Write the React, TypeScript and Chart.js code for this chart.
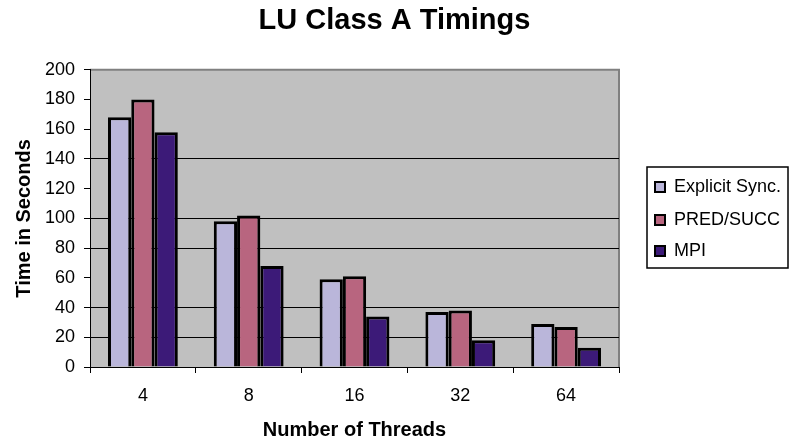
import React, { useEffect, useRef } from "react";
import { Chart, registerables } from "chart.js";

Chart.register(...registerables);

const categories = ["4", "8", "16", "32", "64"];
const explicitSync = [168, 98, 59, 37, 29];
const predSucc = [180, 102, 61, 38, 27];
const mpi = [158, 68, 34, 18, 13];
const seriesNames = ["Explicit Sync.", "PRED/SUCC", "MPI"];
const seriesColors = ["#BAB6DA", "#B8657F", "#3C1A78"];
const visibleGridValues = [20, 40, 80, 100, 140];

const FONT = "'Liberation Sans', Arial, sans-serif";

const plotBackground = {
  id: "plotBackground",
  beforeDraw(chart: any) {
    const { ctx, chartArea } = chart;
    const { left, top, right, bottom } = chartArea;
    ctx.save();
    ctx.fillStyle = "#C0C0C0";
    ctx.fillRect(left, top, right - left, bottom - top);
    ctx.strokeStyle = "#808080";
    ctx.lineWidth = 2;
    ctx.beginPath();
    ctx.moveTo(left, top);
    ctx.lineTo(right, top);
    ctx.lineTo(right, bottom);
    ctx.stroke();
    ctx.restore();
  },
};

const boxedLegend = {
  id: "boxedLegend",
  afterDraw(chart: any) {
    const { ctx, chartArea } = chart;
    const x0 = chartArea.right + 28;
    const y0 = 167;
    const w = 788 - x0;
    const h = 101;
    ctx.save();
    ctx.strokeStyle = "#000";
    ctx.lineWidth = 1.5;
    ctx.strokeRect(x0, y0, w, h);
    ctx.font = `18px ${FONT}`;
    ctx.textBaseline = "middle";
    ctx.textAlign = "left";
    const rows = [187, 220, 251];
    chart.data.datasets.forEach((ds: any, i: number) => {
      const cy = rows[i];
      ctx.fillStyle = ds.backgroundColor;
      ctx.fillRect(x0 + 8, cy - 5, 10, 10);
      ctx.lineWidth = 2;
      ctx.strokeRect(x0 + 8, cy - 5, 10, 10);
      ctx.fillStyle = "#000";
      ctx.fillText(ds.label, x0 + 27, cy);
    });
    ctx.restore();
  },
};

export default function App() {
  const ref = useRef<HTMLCanvasElement | null>(null);
  useEffect(() => {
    document.body.style.margin = "0";
    const canvas = ref.current!;
    const chart = new Chart(canvas, {
      type: "bar",
      data: {
        labels: categories,
        datasets: [explicitSync, predSucc, mpi].map((d, i) => ({
          label: seriesNames[i],
          data: d,
          backgroundColor: seriesColors[i],
          borderColor: "#000",
          borderWidth: 3,
          borderSkipped: "bottom",
          categoryPercentage: 0.66,
          barPercentage: 1,
        })),
      },
      options: {
        responsive: false,
        animation: false,
        layout: { padding: { left: 0, right: 0, top: 0, bottom: 0 } },
        plugins: {
          legend: { display: false },
          tooltip: { enabled: false },
          title: {
            display: true,
            text: "LU Class A Timings",
            color: "#000",
            font: { family: FONT, size: 29, weight: "bold" },
            padding: { top: 4, bottom: 31 },
          },
        },
        scales: {
          x: {
            offset: true,
            grid: {
              display: true,
              offset: true,
              drawOnChartArea: false,
              drawTicks: true,
              tickLength: 6,
              tickColor: "#000",
              color: "#000",
            },
            border: { display: true, color: "#000", width: 1 },
            ticks: {
              color: "#000",
              font: { family: FONT, size: 18 },
              padding: 12,
              maxRotation: 0,
            },
            title: {
              display: true,
              text: "Number of Threads",
              color: "#000",
              font: { family: FONT, size: 20, weight: "bold" },
              padding: { top: 2, bottom: 0 },
            },
            afterFit: (scale: any) => {
              scale.height = 75;
            },
          },
          y: {
            min: 0,
            max: 200,
            grid: {
              drawTicks: true,
              tickLength: 6,
              tickColor: "#000",
              lineWidth: 1,
              color: (c: any) =>
                c.tick && visibleGridValues.includes(c.tick.value) ? "#000" : "rgba(0,0,0,0)",
            },
            border: { display: true, color: "#000", width: 1 },
            ticks: {
              stepSize: 20,
              color: "#000",
              font: { family: FONT, size: 18 },
              padding: 9,
            },
            title: {
              display: true,
              text: "Time in Seconds",
              color: "#000",
              font: { family: FONT, size: 20, weight: "bold" },
              padding: { top: 12, bottom: 0 },
            },
            afterFit: (scale: any) => {
              scale.width = 90;
            },
          },
          legendSpace: {
            type: "linear",
            position: "right",
            display: true,
            grid: { display: false, drawTicks: false },
            border: { display: false },
            ticks: { display: false },
            afterFit: (scale: any) => {
              scale.width = 170;
            },
          },
        },
      },
      plugins: [plotBackground, boxedLegend],
    });
    return () => chart.destroy();
  }, []);
  return (
    <div style={{ width: 789, height: 442, background: "#fff" }}>
      <canvas ref={ref} width={789} height={442} style={{ display: "block" }} />
    </div>
  );
}
